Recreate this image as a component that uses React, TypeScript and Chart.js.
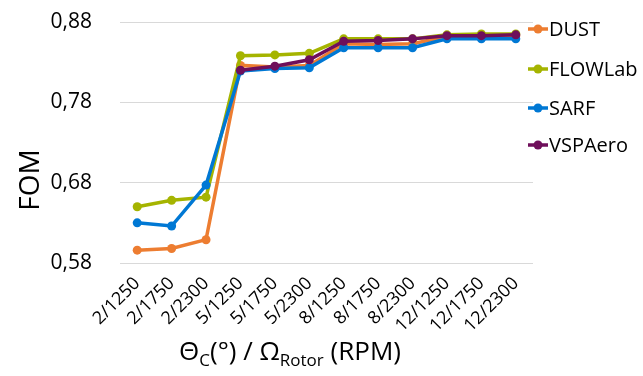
import React, { useEffect, useRef } from "react";
import { Chart, registerables } from "chart.js";

Chart.register(...registerables);

const categories = ["2/1250", "2/1750", "2/2300", "5/1250", "5/1750", "5/2300", "8/1250", "8/1750", "8/2300", "12/1250", "12/1750", "12/2300"];
const dust = [0.596, 0.598, 0.609, 0.826, 0.824, 0.826, 0.853, 0.852, 0.853, 0.862, 0.863, 0.863];
const flowlab = [0.650, 0.658, 0.662, 0.838, 0.839, 0.841, 0.859, 0.859, 0.859, 0.864, 0.865, 0.865];
const sarf = [0.630, 0.626, 0.677, 0.819, 0.822, 0.823, 0.848, 0.848, 0.848, 0.859, 0.859, 0.859];
const vspaero = [null, null, null, 0.820, 0.825, 0.833, 0.856, 0.857, 0.859, 0.863, 0.863, 0.864];
const seriesNames = ["DUST", "FLOWLab", "SARF", "VSPAero"];
const seriesColors = ["#ED7D31", "#A5B400", "#0078D4", "#6F0F5B"];
const yTicks = [0.58, 0.68, 0.78, 0.88];

const FONT = "'Open Sans', sans-serif";

const decorPlugin = {
  id: "decor",
  afterDraw(chart: any) {
    const ctx = chart.ctx;
    const ca = chart.chartArea;
    ctx.save();
    // Legend
    const rows = [29, 69, 108, 145];
    seriesNames.forEach((name, i) => {
      const y = rows[i];
      const x0 = ca.right - 5;
      ctx.strokeStyle = seriesColors[i];
      ctx.lineWidth = 3.5;
      ctx.beginPath();
      ctx.moveTo(x0, y);
      ctx.lineTo(x0 + 20, y);
      ctx.stroke();
      ctx.fillStyle = seriesColors[i];
      ctx.beginPath();
      ctx.arc(x0 + 10, y, 4.5, 0, Math.PI * 2);
      ctx.fill();
      ctx.fillStyle = "#000";
      ctx.font = `20px ${FONT}`;
      ctx.textAlign = "left";
      ctx.textBaseline = "middle";
      ctx.fillText(name, x0 + 21, y + 1);
    });
    // Y title
    ctx.save();
    ctx.translate(31, 180);
    ctx.rotate(-Math.PI / 2);
    ctx.font = `28px ${FONT}`;
    ctx.fillStyle = "#000";
    ctx.textAlign = "center";
    ctx.textBaseline = "middle";
    ctx.fillText("FOM", 0, 0);
    ctx.restore();
    // X title with subscripts
    const big = `26px ${FONT}`;
    const small = `17px ${FONT}`;
    const parts: [string, string, number][] = [
      ["Θ", big, 0],
      ["C", small, 6],
      ["(°) / Ω", big, 0],
      ["Rotor", small, 6],
      [" (RPM)", big, 0],
    ];
    let total = 0;
    parts.forEach(([t, f]) => {
      ctx.font = f;
      total += ctx.measureText(t).width;
    });
    let x = 290 - total / 2;
    const base = 360;
    ctx.fillStyle = "#000";
    ctx.textAlign = "left";
    ctx.textBaseline = "alphabetic";
    parts.forEach(([t, f, dy]) => {
      ctx.font = f;
      ctx.fillText(t, x, base + dy);
      x += ctx.measureText(t).width;
    });
    ctx.restore();
  },
};

export default function App() {
  const ref = useRef<HTMLCanvasElement>(null);
  useEffect(() => {
    document.body.style.margin = "0";
    const data = [dust, flowlab, sarf, vspaero];
    const chart = new Chart(ref.current!, {
      type: "line",
      data: {
        labels: categories,
        datasets: seriesNames.map((n, i) => ({
          label: n,
          data: data[i],
          borderColor: seriesColors[i],
          backgroundColor: seriesColors[i],
          borderWidth: 3.5,
          pointRadius: 4.5,
          pointHoverRadius: 4.5,
          pointBorderWidth: 0,
          tension: 0,
          spanGaps: false,
          order: 4 - i,
        })),
      },
      options: {
        responsive: false,
        animation: false,
        layout: { padding: { left: 0, right: 110, top: 22, bottom: 0 } },
        plugins: { legend: { display: false }, tooltip: { enabled: false } },
        scales: {
          x: {
            offset: true,
            grid: { display: false },
            border: { display: false },
            ticks: {
              minRotation: 45,
              maxRotation: 45,
              autoSkip: false,
              padding: 2,
              color: "#000",
              font: { family: FONT, size: 18 },
            },
            afterFit(scale: any) {
              scale.height = 113;
              scale.paddingLeft = 0;
              scale.paddingRight = 0;
            },
          },
          y: {
            min: 0.58,
            max: 0.88,
            afterBuildTicks(scale: any) {
              scale.ticks = yTicks.map((v) => ({ value: v }));
            },
            grid: { color: "#D9D9D9", lineWidth: 1, drawTicks: false },
            border: { display: false },
            ticks: {
              padding: 28,
              color: "#000",
              font: { family: FONT, size: 21 },
              callback: (v: any) => Number(v).toFixed(2).replace(".", ","),
            },
            afterFit(scale: any) {
              scale.width = 120;
              scale.paddingTop = 0;
              scale.paddingBottom = 0;
            },
          },
        },
      },
      plugins: [decorPlugin],
    });
    return () => chart.destroy();
  }, []);
  return (
    <div style={{ width: 643, height: 376 }}>
      <canvas ref={ref} width={643} height={376} />
    </div>
  );
}
